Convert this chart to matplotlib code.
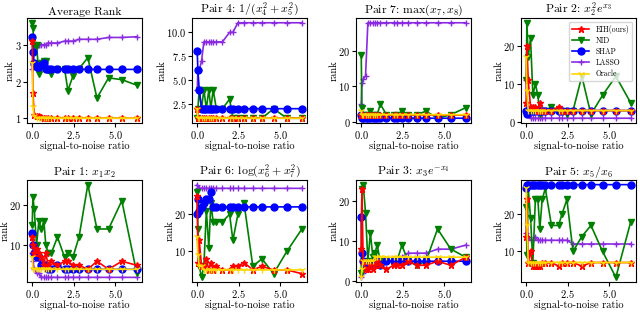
import matplotlib
matplotlib.use("Agg")
import matplotlib.pyplot as plt

plt.rcParams['font.family'] = 'serif'
plt.rcParams['font.serif'] = ['cmr10', 'DejaVu Serif']
plt.rcParams['mathtext.fontset'] = 'cm'
plt.rcParams['axes.formatter.use_mathtext'] = True
plt.rcParams['axes.unicode_minus'] = False

# signal-to-noise ratio grid
snr = [0.0, 0.04, 0.12, 0.26, 0.40, 0.55, 0.70, 0.82, 0.96, 1.15,
       1.52, 1.95, 2.15, 2.45, 2.82, 3.35, 3.9, 4.6, 5.4, 6.3]

titles = ['Average Rank', r'Pair 4: $1/(x_4^2+x_5^2)$', r'Pair 7: $\max(x_7,x_8)$',
          r'Pair 2: $x_2^2e^{x_3}$', r'Pair 1: $x_1x_2$', r'Pair 6: $\log(x_6^2+x_7^2)$',
          r'Pair 3: $x_3e^{-x_4}$', r'Pair 5: $x_5/x_6$']

# ranks per panel: EIH, NID, SHAP, LASSO, Oracle
eih = [
    [3.1, 1.7, 1.1, 1.05, 1.05, 1.03, 1.0, 1.0, 1.0, 1.0, 1.0, 1.0, 1.0, 1.0, 1.0, 1.0, 1.0, 1.0, 1.0, 1.0],
    [2, 1, 1, 1, 1, 1, 1, 1, 1, 1, 1, 1, 1, 1, 1, 1, 1, 1, 1, 1],
    [2, 2, 2, 2, 2, 2, 2, 2, 2, 2, 2, 2, 2, 2, 2, 2, 2, 2, 2, 2],
    [5, 20, 11, 4, 4, 4, 3, 5, 3, 3, 3, 4, 3, 3, 3, 3, 3, 3, 3, 3],
    [12, 10, 8, 9, 8, 7, 5, 8, 5, 6, 5, 6, 6, 5, 5, 4, 6, 4, 6, 5],
    [25, 7, 13, 6, 6, 8, 5, 7, 5, 6, 5, 5, 6, 6, 7, 5, 6, 5, 5, 4],
    [8, 23, 5, 3, 3, 4, 3, 4, 5, 4, 3, 4, 4, 4, 5, 4, 4, 5, 4, 6],
    [14, 24, 7, 10, 6, 6, 6, 6, 7, 7, 7, 6, 7, 7, 7, 6, 7, 7, 7, 7],
]
nid = [
    [3.6, 3.45, 3.0, 3.0, 2.2, 2.5, 2.55, 2.55, 2.3, 2.2, 2.35, 2.35, 1.75, 2.15, 2.35, 2.65, 1.55, 2.1, 2.05, 1.9],
    [1, 2, 4, 2, 4, 2, 4, 2, 4, 2, 2, 3, 1, 1, 1, 1, 1, 2, 1, 1],
    [19, 4, 2, 2, 2, 3, 2, 2, 2, 5, 2, 2, 2, 3, 2, 2, 3, 1, 2, 4],
    [11, 26, 17, 22, 7, 10, 7, 2, 3, 3, 4, 3, 3, 2, 3, 12, 2, 7, 12, 5],
    [15, 22, 19, 10, 16, 14, 16, 10, 8, 8, 12, 7, 8, 7, 12, 25, 14, 14, 21, 3],
    [26, 16, 6, 3, 6, 21, 11, 23, 18, 18, 18, 20, 13, 20, 23, 6, 8, 4, 10, 16],
    [2, 23, 24, 17, 5, 12, 6, 7, 9, 5, 5, 5, 5, 9, 5, 4, 5, 13, 8, 6],
    [22, 9, 27, 19, 7, 24, 24, 16, 24, 27, 17, 17, 20, 24, 10, 14, 17, 10, 3, 18],
]
shap = [
    [3.2, 2.8, 2.5, 2.4, 2.4, 2.45, 2.5, 2.35, 2.35, 2.33, 2.33, 2.33, 2.33, 2.33, 2.33, 2.33, 2.33, 2.33, 2.33, 2.33],
    [8, 6, 4, 2, 2, 2, 2, 2, 2, 2, 2, 2, 2, 2, 2, 2, 2, 2, 2, 2],
    [2, 1, 1, 1, 1, 1, 1, 1, 1, 1, 1, 1, 1, 1, 1, 1, 1, 1, 1, 1],
    [3, 2, 3, 3, 3, 3, 3, 3, 3, 3, 3, 3, 3, 3, 3, 3, 3, 3, 3, 3],
    [13, 10, 8, 7, 7, 5, 5, 5, 4, 4, 5, 4, 4, 4, 4, 4, 4, 4, 4, 4],
    [20, 24, 21, 22, 23, 24, 24, 26, 22, 22, 22, 22, 22, 22, 22, 22, 22, 22, 22, 22],
    [16, 7, 5, 4, 4, 4, 4, 5, 5, 4, 5, 5, 5, 5, 5, 5, 5, 5, 5, 5],
    [27, 28, 28, 28, 28, 28, 28, 28, 28, 28, 28, 28, 28, 28, 28, 28, 28, 28, 28, 28],
]
lasso = [
    [2.35, 2.45, 2.85, 2.95, 3.0, 3.0, 3.0, 3.0, 3.05, 3.05, 3.05, 3.1, 3.1, 3.1, 3.15, 3.15, 3.15, 3.2, 3.2, 3.22],
    [4, 6, 6, 7, 9, 9, 9, 9, 9, 9, 9, 10, 10, 11, 11, 11, 11, 11, 11, 11],
    [5, 11, 12, 13, 28, 28, 28, 28, 28, 28, 28, 28, 28, 28, 28, 28, 28, 28, 28, 28],
    [11, 3, 2, 1, 1, 1, 1, 1, 1, 1, 1, 1, 1, 1, 1, 1, 1, 1, 1, 1],
    [8, 6, 4, 3, 3, 2, 2, 2, 2, 2, 2, 2, 2, 2, 2, 2, 2, 2, 2, 2],
    [28, 27, 27, 27, 27, 27, 27, 27, 27, 27, 27, 27, 27, 27, 27, 27, 27, 27, 27, 27],
    [1, 2, 2, 3, 4, 4, 4, 4, 5, 5, 5, 5, 5, 6, 7, 7, 7, 8, 8, 9],
    [15, 14, 14, 13, 13, 14, 13, 13, 13, 13, 13, 13, 13, 13, 12, 12, 12, 12, 12, 12],
]
oracle = [
    [2.5, 1.3, 1.05, 1.0, 1.0, 1.0, 1.0, 1.0, 1.0, 1.0, 1.0, 1.0, 1.0, 1.0, 1.0, 1.0, 1.0, 1.0, 1.0, 1.0],
    [2, 1, 1, 1, 1, 1, 1, 1, 1, 1, 1, 1, 1, 1, 1, 1, 1, 1, 1, 1],
    [3, 2, 2, 2, 2, 2, 2, 2, 2, 2, 2, 2, 2, 2, 2, 2, 2, 2, 2, 2],
    [17, 8, 3, 3, 3, 3, 3, 3, 3, 3, 3, 3, 3, 3, 3, 3, 3, 3, 3, 3],
    [7, 4, 4, 4, 4, 4, 4, 4, 4, 4, 4, 4, 4, 4, 4, 4, 4, 4, 4, 4],
    [14, 9, 6, 6, 5, 5, 5, 5, 5, 5, 5, 5, 5, 5, 5, 5, 5, 5, 5, 5],
    [1, 3, 5, 5, 5, 5, 5, 6, 6, 6, 6, 6, 6, 6, 6, 6, 6, 6, 6, 6],
    [27, 17, 7, 7, 7, 7, 7, 7, 7, 7, 7, 7, 7, 7, 7, 7, 7, 7, 7, 7],
]

series = [
    ('EIH(ours)', eih, 'red', '*'),
    ('NID', nid, 'green', 'v'),
    ('SHAP', shap, 'blue', 'o'),
    ('LASSO', lasso, 'blueviolet', '+'),
    ('Oracle', oracle, 'gold', '1'),
]
draw_order = [3, 1, 2, 0, 4]

fig = plt.figure(figsize=(6.4, 3.12), dpi=100)
W, H = 640, 312
lefts = [27, 192, 356, 521]
rows = [(18, 123), (180, 282)]

for i in range(8):
    r, c = divmod(i, 4)
    top, bot = rows[r]
    ax = fig.add_axes([lefts[c] / W, 1 - bot / H, 115 / W, (bot - top) / H])
    handles = {}
    for k in draw_order:
        name, data, col, mk = series[k]
        ms = 5 if mk in ('*', 'o', '+', '1') else 4.5
        h, = ax.plot(snr, data[i], color=col, marker=mk, markersize=ms,
                     linewidth=1.2, label=name)
        handles[k] = h
    ax.set_title(titles[i], fontsize=8.5, pad=2)
    ax.set_xlabel('signal-to-noise ratio', fontsize=7.5, labelpad=0)
    ax.set_ylabel('rank', fontsize=7.5, labelpad=0)
    ax.tick_params(labelsize=7.5, length=3, pad=1)
    ax.set_xticks([0, 2.5, 5.0])
    if i == 3:
        ax.legend([handles[k] for k in range(5)], [series[k][0] for k in range(5)],
                  loc='upper right', fontsize=5.5, framealpha=0.8,
                  handlelength=2.2, borderpad=0.4, labelspacing=0.35)

fig.savefig('out.png', dpi=100)
